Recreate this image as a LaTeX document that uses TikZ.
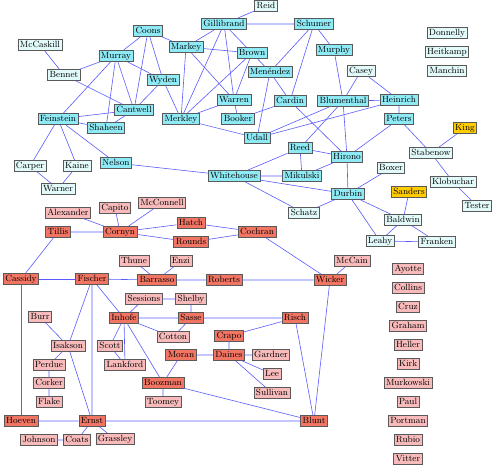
\documentclass[tikz,border=0pt]{standalone}
\usetikzlibrary{positioning}
\definecolor{demcyan}{RGB}{142,234,245}
\definecolor{demlight}{RGB}{226,250,250}
\definecolor{repred}{RGB}{242,116,98}
\definecolor{replight}{RGB}{248,186,186}
\definecolor{indgold}{RGB}{255,204,0}
\definecolor{edgeblue}{RGB}{90,90,255}

\begin{document}
\begin{tikzpicture}[x=1pt, y=-1pt,
    senator/.style={rectangle, draw=black!65, line width=0.6pt, inner xsep=2pt, inner ysep=1.5pt,
      text height=6.3pt, text depth=1.8pt, font=\fontsize{9}{10}\selectfont},
    dem/.style={senator, fill=demcyan},
    demlt/.style={senator, fill=demlight},
    ind/.style={senator, fill=indgold},
    rep/.style={senator, fill=repred},
    replt/.style={senator, fill=replight},
    edge/.style={draw=edgeblue, line width=0.6pt},
    node distance=7.3pt]
  \useasboundingbox (0,0) rectangle (492,465);

  % Democrats
  \node[dem] (coons) at (148,31) {Coons};
  \node[dem] (murray) at (116,56) {Murray};
  \node[dem] (wyden) at (163,80) {Wyden};
  \node[dem] (cantwell) at (134,110) {Cantwell};
  \node[dem] (feinstein) at (58,119) {Feinstein};
  \node[dem] (shaheen) at (106,128) {Shaheen};
  \node[dem] (nelson) at (116,163) {Nelson};
  \node[dem] (gillibrand) at (224,24) {Gillibrand};
  \node[dem] (schumer) at (314,24) {Schumer};
  \node[dem] (markey) at (186,47) {Markey};
  \node[dem] (brown) at (252,53) {Brown};
  \node[dem] (menendez) at (270,72) {Menéndez};
  \node[dem] (murphy) at (334,50) {Murphy};
  \node[dem] (warren) at (234,100) {Warren};
  \node[dem] (cardin) at (290,101) {Cardin};
  \node[dem] (merkley) at (181,119) {Merkley};
  \node[dem] (booker) at (238,119) {Booker};
  \node[dem] (udall) at (257,138) {Udall};
  \node[dem] (reed) at (300,148) {Reed};
  \node[dem] (blumenthal) at (343,101) {Blumenthal};
  \node[dem] (heinrich) at (399,100) {Heinrich};
  \node[dem] (peters) at (399,119) {Peters};
  \node[dem] (hirono) at (347,157) {Hirono};
  \node[dem] (mikulski) at (302,176) {Mikulski};
  \node[dem] (durbin) at (348,194) {Durbin};
  \node[dem] (whitehouse) at (234,176) {Whitehouse};

  \node[demlt] (mccaskill) at (40,45) {McCaskill};
  \node[demlt] (bennet) at (64,75) {Bennet};
  \node[demlt] (carper) at (30,166) {Carper};
  \node[demlt] (kaine) at (77,166) {Kaine};
  \node[demlt] (warner) at (58,189) {Warner};
  \node[demlt] (reid) at (266,6) {Reid};
  \node[demlt] (casey) at (361,71) {Casey};
  \node[demlt] (heitkamp) at (447,52) {Heitkamp};
  \node[demlt, above=of heitkamp] (donnelly) {Donnelly};
  \node[demlt, below=of heitkamp] (manchin) {Manchin};
  \node[demlt] (stabenow) at (431,153) {Stabenow};
  \node[demlt] (klobuchar) at (453,182) {Klobuchar};
  \node[demlt] (tester) at (477,206) {Tester};
  \node[demlt] (boxer) at (391,168) {Boxer};
  \node[demlt] (schatz) at (304,213) {Schatz};
  \node[demlt] (baldwin) at (403,220) {Baldwin};
  \node[demlt] (leahy) at (380,241) {Leahy};
  \node[demlt] (franken) at (437,242) {Franken};

  % Independents
  \node[ind] (king) at (465,128) {King};
  \node[ind] (sanders) at (409,192) {Sanders};

  % Republicans
  \node[rep] (tillis) at (58,232) {Tillis};
  \node[rep] (cornyn) at (120,232) {Cornyn};
  \node[rep] (hatch) at (191,223) {Hatch};
  \node[rep] (rounds) at (191,242) {Rounds};
  \node[rep] (cochran) at (257,232) {Cochran};
  \node[rep] (cassidy) at (21,279) {Cassidy};
  \node[rep] (fischer) at (92,279) {Fischer};
  \node[rep] (barrasso) at (157,280) {Barrasso};
  \node[rep] (roberts) at (224,280) {Roberts};
  \node[rep] (wicker) at (330,280) {Wicker};
  \node[rep] (inhofe) at (124,318) {Inhofe};
  \node[rep] (sasse) at (191,318) {Sasse};
  \node[rep] (risch) at (295,318) {Risch};
  \node[rep] (crapo) at (229,336) {Crapo};
  \node[rep] (moran) at (181,355) {Moran};
  \node[rep] (daines) at (229,355) {Daines};
  \node[rep] (boozman) at (163,383) {Boozman};
  \node[rep] (hoeven) at (21,421) {Hoeven};
  \node[rep] (ernst) at (92,421) {Ernst};
  \node[rep] (blunt) at (314,421) {Blunt};

  \node[replt] (alexander) at (68,213) {Alexander};
  \node[replt] (capito) at (115,208) {Capito};
  \node[replt] (mcconnell) at (162,203) {McConnell};
  \node[replt] (thune) at (134,261) {Thune};
  \node[replt] (enzi) at (181,261) {Enzi};
  \node[replt] (sessions) at (144,299) {Sessions};
  \node[replt] (shelby) at (191,299) {Shelby};
  \node[replt] (cotton) at (173,337) {Cotton};
  \node[replt] (burr) at (40,317) {Burr};
  \node[replt] (isakson) at (68,346) {Isakson};
  \node[replt] (scott) at (110,346) {Scott};
  \node[replt] (perdue) at (49,365) {Perdue};
  \node[replt] (lankford) at (125,365) {Lankford};
  \node[replt] (corker) at (49,383) {Corker};
  \node[replt] (flake) at (49,402) {Flake};
  \node[replt] (toomey) at (163,402) {Toomey};
  \node[replt] (johnson) at (39,440) {Johnson};
  \node[replt] (coats) at (77,440) {Coats};
  \node[replt] (grassley) at (115,439) {Grassley};
  \node[replt] (gardner) at (271,355) {Gardner};
  \node[replt] (lee) at (272,374) {Lee};
  \node[replt] (sullivan) at (272,393) {Sullivan};
  \node[replt] (mccain) at (352,261) {McCain};

  % unconnected column
  \node[replt] (ayotte) at (408,269) {Ayotte};
  \node[replt, below=of ayotte] (collins) {Collins};
  \node[replt, below=of collins] (cruz) {Cruz};
  \node[replt, below=of cruz] (graham) {Graham};
  \node[replt, below=of graham] (heller) {Heller};
  \node[replt, below=of heller] (kirk) {Kirk};
  \node[replt, below=of kirk] (murkowski) {Murkowski};
  \node[replt, below=of murkowski] (paul) {Paul};
  \node[replt, below=of paul] (portman) {Portman};
  \node[replt, below=of portman] (rubio) {Rubio};
  \node[replt, below=of rubio] (vitter) {Vitter};

  % Democratic links
  \draw[edge] (mccaskill) -- (bennet) (bennet) -- (murray) (bennet) -- (cantwell);
  \draw[edge] (coons) -- (murray) (coons) -- (markey) (coons) -- (cantwell) (coons) -- (wyden);
  \draw[edge] (murray) -- (feinstein) (murray) -- (shaheen) (murray) -- (cantwell) (murray) -- (wyden);
  \draw[edge] (wyden) -- (cantwell) (wyden) -- (merkley);
  \draw[edge] (cantwell) -- (feinstein) (cantwell) -- (shaheen) (feinstein) -- (shaheen);
  \draw[edge] (feinstein) -- (carper) (feinstein) -- (kaine) (feinstein) -- (nelson);
  \draw[edge] (carper) -- (warner) (kaine) -- (warner) (nelson) -- (whitehouse);
  \draw[edge] (gillibrand) -- (reid) (gillibrand) -- (schumer) (gillibrand) -- (markey)
    (gillibrand) -- (brown) (gillibrand) -- (merkley) (gillibrand) -- (warren);
  \draw[edge] (markey) -- (brown) (markey) -- (merkley) (markey) -- (warren);
  \draw[edge] (brown) -- (merkley) (brown) -- (warren) (brown) -- (menendez);
  \draw[edge] (warren) -- (booker) (merkley) -- (warren) (merkley) -- (udall) (booker) -- (cardin);
  \draw[edge] (schumer) -- (murphy) (schumer) -- (menendez) (schumer) -- (cardin);
  \draw[edge] (menendez) -- (cardin) (menendez) -- (udall) (cardin) -- (hirono);
  \draw[edge] (udall) -- (blumenthal) (udall) -- (heinrich);
  \draw[edge] (blumenthal) -- (heinrich) (blumenthal) -- (murphy) (blumenthal) -- (casey)
    (casey) -- (heinrich) (heinrich) -- (peters);
  \draw[edge] (blumenthal) -- (reed) (blumenthal) -- (hirono) (peters) -- (hirono) (peters) -- (stabenow);
  \draw[edge] (reed) -- (hirono) (reed) -- (mikulski) (reed) -- (whitehouse);
  \draw[edge] (hirono) -- (mikulski) (hirono) -- (durbin);
  \draw[edge] (whitehouse) -- (mikulski) (whitehouse) -- (durbin) (whitehouse) -- (schatz) (schatz) -- (durbin);
  \draw[edge] (durbin) -- (boxer) (durbin) -- (baldwin) (durbin) -- (leahy);
  \draw[edge] (baldwin) -- (sanders) (baldwin) -- (leahy) (baldwin) -- (franken) (leahy) -- (franken);
  \draw[edge] (king) -- (stabenow) (stabenow) -- (klobuchar) (klobuchar) -- (tester);

  % Republican links
  \draw[edge] (alexander) -- (cornyn) (capito) -- (cornyn) (mcconnell) -- (cornyn) (tillis) -- (cornyn);
  \draw[edge] (tillis) -- (cassidy) (cornyn) -- (hatch) (cornyn) -- (rounds);
  \draw[edge] (hatch) -- (cochran) (rounds) -- (cochran) (cochran) -- (wicker) (mccain) -- (wicker);
  \draw[edge] (cassidy) -- (fischer) (cassidy) -- (hoeven);
  \draw[edge] (fischer) -- (barrasso) (fischer) -- (inhofe) (fischer) -- (isakson) (fischer) -- (ernst);
  \draw[edge] (barrasso) -- (thune) (barrasso) -- (enzi) (barrasso) -- (roberts) (roberts) -- (wicker);
  \draw[edge] (sessions) -- (shelby) (sessions) -- (inhofe) (shelby) -- (sasse);
  \draw[edge] (inhofe) -- (sasse) (sasse) -- (risch) (sasse) -- (cotton) (inhofe) -- (cotton);
  \draw[edge] (inhofe) -- (scott) (inhofe) -- (lankford) (inhofe) -- (boozman) (scott) -- (lankford);
  \draw[edge] (risch) -- (crapo) (risch) -- (blunt) (wicker) -- (blunt);
  \draw[edge] (crapo) -- (daines) (moran) -- (daines) (moran) -- (boozman);
  \draw[edge] (daines) -- (gardner) (daines) -- (lee) (daines) -- (sullivan);
  \draw[edge] (boozman) -- (toomey) (boozman) -- (blunt);
  \draw[edge] (burr) -- (isakson) (isakson) -- (perdue) (isakson) -- (ernst)
    (perdue) -- (corker) (corker) -- (flake);
  \draw[edge] (hoeven) -- (ernst) (ernst) -- (blunt) (ernst) -- (coats) (ernst) -- (grassley) (johnson) -- (coats);
\end{tikzpicture}
\end{document}
